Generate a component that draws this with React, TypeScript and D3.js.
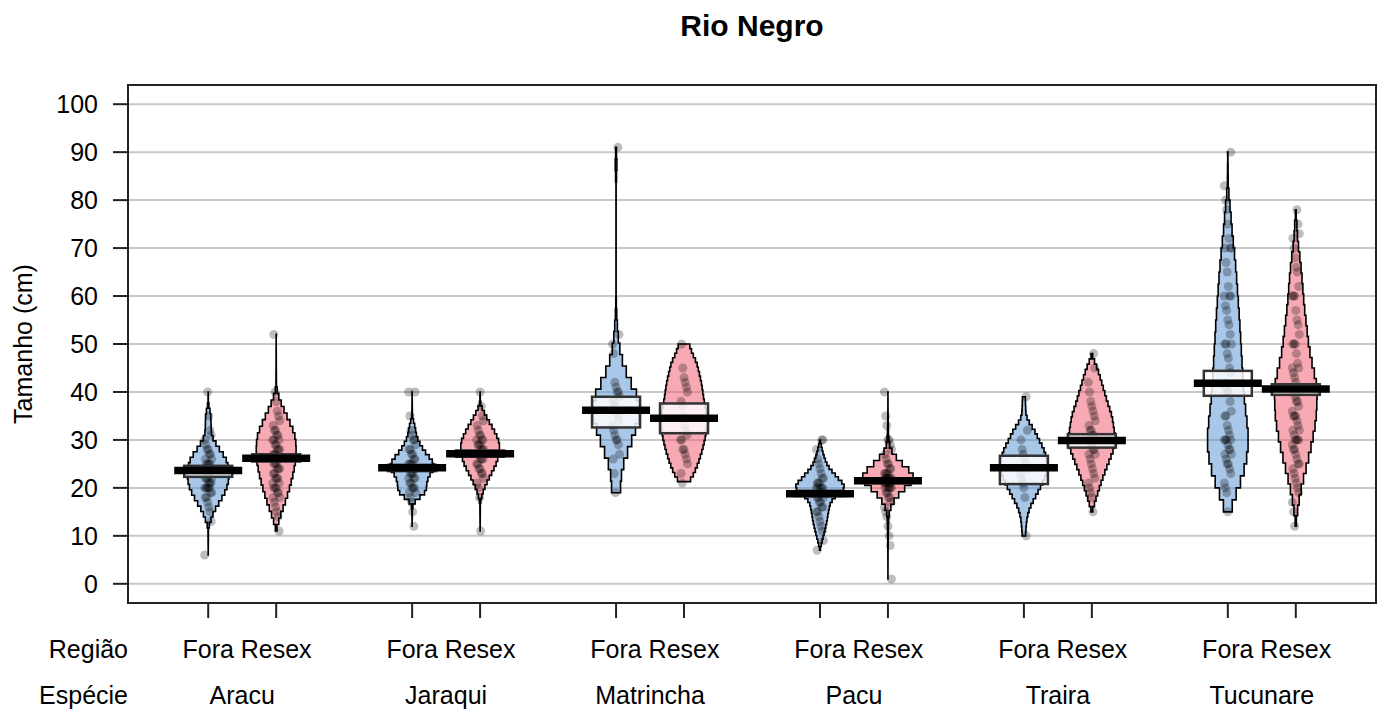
import React from "react";
import * as d3 from "d3";

// ---------- data ----------
const title = "Rio Negro";
const yLabel = "Tamanho (cm)";
const species = ["Aracu", "Jaraqui", "Matrincha", "Pacu", "Traira", "Tucunare"];
const regions = ["Fora", "Resex"];
const yTicks = [0, 10, 20, 30, 40, 50, 60, 70, 80, 90, 100];

// means per bean (species x region, in order)
const means = [23.6, 26.2, 24.2, 27.1, 36.2, 34.5, 18.8, 21.5, 24.2, 29.9, 41.8, 40.6];
// inference band (lower, upper)
const boxLo = [22.3, 25.5, 23.5, 26.5, 32.6, 31.4, 18.3, 21.0, 20.8, 28.4, 39.2, 39.4];
const boxHi = [24.6, 27.0, 24.8, 27.8, 39.0, 37.6, 19.4, 22.0, 26.7, 31.2, 44.4, 41.6];

// bean density profiles: [value, relative density]
const densAracuFora = [[6,0],[12,0.01],[13,0.08],[15,0.2],[16,0.3],[18,0.5],[19,0.6],[21,0.72],[23,0.75],[25,0.7],[26.5,0.6],[28,0.4],[30,0.2],[31,0.12],[33,0.1],[35,0.1],[36.5,0.05],[37,0.01],[40,0]];
const densAracuResex = [[11,0],[12,0.05],[13,0.08],[15,0.2],[18,0.38],[21,0.53],[24,0.65],[26,0.7],[28,0.72],[31,0.68],[34,0.46],[36,0.3],[38,0.15],[40,0.04],[41,0.01],[45,0.005],[52,0]];
const densJaraquiFora = [[12,0],[16,0.01],[17,0.06],[18,0.25],[19,0.5],[21,0.52],[22.5,0.6],[24,0.8],[25.5,0.75],[26.5,0.6],[28,0.4],[29.5,0.25],[31,0.15],[33,0.1],[34,0.04],[35,0.01],[40,0]];
const densJaraquiResex = [[11,0],[17,0.01],[18,0.05],[20,0.15],[22.5,0.36],[25,0.58],[27,0.68],[29,0.7],[30,0.66],[32,0.5],[34,0.3],[36,0.12],[37,0.04],[38,0.01],[40,0]];
const densMatrinchaFora = [[19,0.15],[20,0.15],[22,0.18],[24,0.22],[26,0.32],[28,0.45],[30,0.58],[32,0.68],[35,0.85],[37,0.88],[39,0.78],[41,0.6],[43,0.45],[45,0.3],[47,0.2],[50,0.1],[52,0.07],[54,0.05],[55,0.03],[57,0.02],[59,0.003],[84,0.003],[86,0.03],[90,0.03],[91,0]];
const densMatrinchaResex = [[21.3,0.18],[22.5,0.32],[25,0.5],[28,0.66],[31,0.78],[34,0.82],[36,0.8],[38,0.72],[42,0.62],[46,0.46],[48,0.3],[50,0.18]];
const densPacuFora = [[7,0],[8,0.04],[9,0.08],[11,0.17],[13,0.25],[15,0.3],[17,0.38],[18.5,0.6],[19.5,0.85],[20.5,0.9],[21.5,0.72],[22.5,0.58],[24,0.35],[25,0.24],[26,0.18],[27,0.12],[28,0.08],[29,0.04],[30,0]];
const densPacuResex = [[1,0],[8,0.005],[10,0.01],[13,0.02],[15,0.04],[16,0.1],[17,0.18],[18.5,0.36],[20,0.62],[21.5,0.9],[22.5,1.0],[23.5,0.78],[24.5,0.6],[26,0.35],[27,0.2],[28,0.1],[29,0.05],[31,0.02],[33,0.01],[35,0.005],[40,0]];
const densTrairaFora = [[10,0.06],[12,0.08],[14,0.12],[16,0.22],[18,0.4],[20,0.58],[22,0.75],[24,0.85],[26,0.82],[28,0.72],[30,0.54],[32,0.38],[33.5,0.2],[35,0.08],[37,0.06],[39,0.05]];
const densTrairaResex = [[15,0],[16,0.06],[18,0.16],[20,0.27],[22,0.38],[25,0.58],[28,0.78],[30,0.85],[32,0.8],[35,0.72],[38,0.55],[41,0.4],[44,0.25],[46,0.12],[47,0.05],[48,0]];
const densTucunareFora = [[15,0.1],[16,0.14],[18,0.24],[20,0.38],[22,0.5],[25,0.64],[28,0.72],[30,0.74],[33,0.7],[36,0.64],[38,0.6],[41,0.56],[45,0.52],[50,0.47],[55,0.42],[60,0.36],[65,0.3],[70,0.22],[73,0.16],[76,0.12],[79,0.08],[81,0.04],[82,0.02],[85,0.01],[88,0.01],[90,0]];
const densTucunareResex = [[12,0],[13,0.02],[15,0.06],[17,0.1],[20,0.2],[23,0.32],[26,0.45],[30,0.6],[34,0.72],[38,0.76],[41,0.76],[43,0.7],[46,0.58],[49,0.48],[52,0.42],[55,0.36],[58,0.3],[61,0.26],[64,0.22],[67,0.17],[70,0.1],[72,0.06],[75,0.04],[78,0]];

// raw observations (cm)
const ptsAracuFora = [6,13,15,16,17,18,18,19,19,20,20,20,20,20,21,21,21,22,22,22,22,23,23,23,24,24,24,24,25,25,25,25,26,26,27,27,28,28,29,30,31,32,35,40];
const ptsAracuResex = [11,14,15,16,17,18,18,19,19,20,20,20,21,21,22,22,22,23,23,24,24,24,25,25,25,26,26,26,26,27,27,27,28,28,28,29,29,30,30,30,31,31,32,32,33,34,35,36,38,40,52];
const ptsJaraquiFora = [12,15,17,18,19,19,20,20,20,21,21,22,22,22,23,23,23,24,24,24,24,25,25,25,25,26,26,27,27,28,28,29,30,30,31,32,35,40,40];
const ptsJaraquiResex = [11,18,20,21,22,23,23,24,24,25,25,26,26,26,27,27,27,28,28,28,29,29,29,30,30,30,31,31,32,33,34,35,37,40];
const ptsMatrinchaFora = [19,23,26,27,29,30,30,31,32,33,34,35,36,37,38,38,39,40,40,41,42,48,50,52,91];
const ptsMatrinchaResex = [21,23,25,26,27,28,28,30,30,31,32,33,35,37,38,40,41,42,43,45,50];
const ptsPacuFora = [7,9,11,12,13,14,15,15,16,16,17,17,18,18,18,19,19,19,19,20,20,20,20,20,21,21,21,22,22,23,24,25,26,28,30,30];
const ptsPacuResex = [1,8,10,12,14,15,16,17,18,18,19,19,20,20,20,20,20,21,21,21,21,21,21,22,22,22,22,22,22,23,23,23,23,24,24,25,25,26,27,28,29,30,30,33,35,40];
const ptsTrairaFora = [10,18,20,21,22,23,24,25,26,27,28,30,32,39];
const ptsTrairaResex = [15,18,19,20,21,22,23,24,25,26,27,27,28,28,29,29,30,30,30,31,31,32,32,33,34,35,36,37,38,40,42,45,48];
const ptsTucunareFora = [15,19,20,21,23,24,25,25,26,27,27,28,28,29,30,30,30,30,31,32,33,35,35,36,38,40,40,40,41,42,44,45,47,48,50,50,50,52,54,55,57,58,60,60,60,62,65,67,70,70,70,72,75,78,80,83,90];
const ptsTucunareResex = [12,15,17,19,20,21,22,23,24,25,25,26,27,28,28,29,30,30,30,30,31,32,32,33,34,35,35,35,36,37,38,38,39,40,40,40,40,41,42,43,44,45,45,46,48,50,50,50,52,54,55,57,60,60,60,62,65,66,68,70,72,73,75,78];

const densities = [densAracuFora, densAracuResex, densJaraquiFora, densJaraquiResex, densMatrinchaFora, densMatrinchaResex, densPacuFora, densPacuResex, densTrairaFora, densTrairaResex, densTucunareFora, densTucunareResex];
const points = [ptsAracuFora, ptsAracuResex, ptsJaraquiFora, ptsJaraquiResex, ptsMatrinchaFora, ptsMatrinchaResex, ptsPacuFora, ptsPacuResex, ptsTrairaFora, ptsTrairaResex, ptsTucunareFora, ptsTucunareResex];

const beanColors = ["#538fd1", "#ef5569"];

// ---------- layout ----------
const W = 1386, H = 713;
const L = 128, R = 1376, T = 85, B = 603;
const FONT = "Arial, 'Liberation Sans', sans-serif";

const x = d3.scaleLinear().domain([-0.18, 18.18]).range([L, R]);
const y = d3.scaleLinear().domain([-4, 104]).range([B, T]);
const w = d3.scaleLinear().domain([0, 1]).range([0, 28]);

function interp(profile: number[][], v: number) {
  for (let i = 0; i < profile.length - 1; i++) {
    const [v0, d0] = profile[i];
    const [v1, d1] = profile[i + 1];
    if (v >= v0 && v <= v1) return d0 + ((d1 - d0) * (v - v0)) / (v1 - v0 || 1);
  }
  return 0;
}

function beanPath(profile: number[][], cx: number) {
  const vmin = profile[0][0];
  const vmax = profile[profile.length - 1][0];
  const n = 30;
  const vs = d3.range(n + 1).map((k) => vmin + ((vmax - vmin) * k) / n);
  const left = vs.map((v) => [cx - w(interp(profile, v)), y(v)] as [number, number]);
  const right = vs.slice().reverse().map((v) => [cx + w(interp(profile, v)), y(v)] as [number, number]);
  const line = d3.line().curve(d3.curveStep);
  return line(left.concat(right)) + "Z";
}

export default function App() {
  const beans = densities.map((dens, k) => {
    const si = Math.floor(k / 2);
    const ri = k % 2;
    const pos = 1 + 3 * si + ri;
    return { k, si, ri, pos, cx: x(pos), dens, pts: points[k] };
  });

  return (
    <svg width={W} height={H} style={{ position: "absolute", left: 0, top: 0, background: "#fff" }} fontFamily={FONT}>
      <rect x={0} y={0} width={W} height={H} fill="#fff" />
      <text x={(L + R) / 2} y={36} textAnchor="middle" fontSize={30} fontWeight="bold" fill="#000">{title}</text>

      {/* grid */}
      {yTicks.map((t) => (
        <line key={"g" + t} x1={L} x2={R} y1={y(t)} y2={y(t)} stroke="#c8c8c8" strokeWidth={2} />
      ))}

      {/* beans */}
      {beans.map((b) => (
        <path key={"b" + b.k} d={beanPath(b.dens, b.cx)} fill={beanColors[b.ri]} fillOpacity={0.5} stroke="#000" strokeWidth={1.6} />
      ))}

      {/* points */}
      {beans.map((b) =>
        b.pts.map((v, i) => {
          const jit = ((((i * 37 + b.k * 11) % 13) - 6) / 6) * 3.5;
          return <circle key={"p" + b.k + "_" + i} cx={b.cx + jit} cy={y(v)} r={4.5} fill="#000" fillOpacity={0.26} />;
        })
      )}

      {/* inference boxes */}
      {beans.map((b) => (
        <rect key={"i" + b.k} x={b.cx - 24} width={48} y={y(boxHi[b.k])} height={y(boxLo[b.k]) - y(boxHi[b.k])} fill="#fff" fillOpacity={0.82} stroke="#333" strokeWidth={2.5} />
      ))}

      {/* average lines */}
      {beans.map((b) => (
        <line key={"m" + b.k} x1={b.cx - 34} x2={b.cx + 34} y1={y(means[b.k])} y2={y(means[b.k])} stroke="#000" strokeWidth={7.5} />
      ))}

      {/* frame */}
      <rect x={L} y={T} width={R - L} height={B - T} fill="none" stroke="#222" strokeWidth={2} />

      {/* y axis */}
      {yTicks.map((t) => (
        <g key={"yt" + t}>
          <line x1={L - 15} x2={L} y1={y(t)} y2={y(t)} stroke="#222" strokeWidth={2} />
          <text x={98} y={y(t)} dy="0.36em" textAnchor="end" fontSize={25} fill="#000">{t}</text>
        </g>
      ))}
      <text transform={`translate(32, ${(T + B) / 2}) rotate(-90)`} textAnchor="middle" fontSize={25} fill="#000">{yLabel}</text>

      {/* x ticks + labels */}
      {beans.map((b) => (
        <g key={"xt" + b.k}>
          <line x1={b.cx} x2={b.cx} y1={B} y2={B + 15} stroke="#222" strokeWidth={2} />
          <text x={b.cx} y={658} textAnchor="middle" fontSize={25} fill="#000">{regions[b.ri]}</text>
        </g>
      ))}
      {species.map((s, i) => (
        <text key={"sp" + s} x={x(1.5 + 3 * i)} y={704} textAnchor="middle" fontSize={25} fill="#000">{s}</text>
      ))}
      <text x={L} y={658} textAnchor="end" fontSize={25} fill="#000">Região</text>
      <text x={L} y={704} textAnchor="end" fontSize={25} fill="#000">Espécie</text>
    </svg>
  );
}
